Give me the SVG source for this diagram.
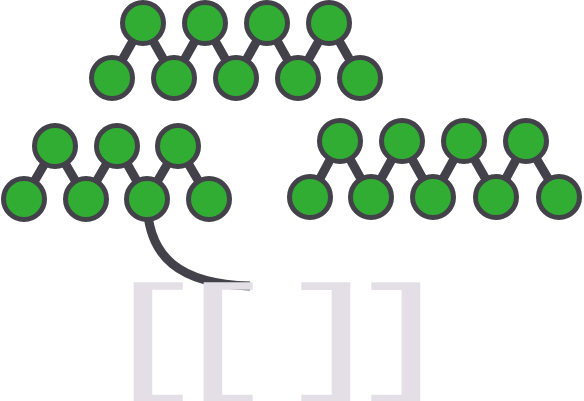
<svg xmlns="http://www.w3.org/2000/svg" width="584" height="401" viewBox="0 0 584 401">
<style>
.n{fill:#31ad33;stroke:#434149;stroke-width:5}
.e{stroke:#434149;stroke-width:9;fill:none}
.br{fill:#e4dfe7;font-family:Inter,"Liberation Sans",sans-serif;font-weight:300;font-size:132px}
</style>
<rect width="584" height="401" fill="#fff"/>
<g id="connectors">
<path class="e" d="M143,23L112,78M143,23L174,78M205,23L174,78M205,23L236,78M267,23L236,78M267,23L298,78M329,23L298,78M329,23L360,78"/>
<path class="e" d="M55,146L24,199M55,146L86,199M117,146L86,199M117,146L147,199M178,146L147,199M178,146L209,199"/>
<path class="e" d="M340,141L310,197M340,141L371,197M402,141L371,197M402,141L433,197M464,141L433,197M464,141L496,197M526,141L496,197M526,141L559,197"/>
<path class="e" d="M147,199C147,258 180,284 250,286"/>
</g>
<g id="n1"><circle class="n" cx="143" cy="23" r="20.5"/></g>
<g id="n2"><circle class="n" cx="205" cy="23" r="20.5"/></g>
<g id="n3"><circle class="n" cx="267" cy="23" r="20.5"/></g>
<g id="n4"><circle class="n" cx="329" cy="23" r="20.5"/></g>
<g id="n5"><circle class="n" cx="112" cy="78" r="20.5"/></g>
<g id="n6"><circle class="n" cx="174" cy="78" r="20.5"/></g>
<g id="n7"><circle class="n" cx="236" cy="78" r="20.5"/></g>
<g id="n8"><circle class="n" cx="298" cy="78" r="20.5"/></g>
<g id="n9"><circle class="n" cx="360" cy="78" r="20.5"/></g>
<g id="l1"><circle class="n" cx="55" cy="146" r="20.5"/></g>
<g id="l2"><circle class="n" cx="117" cy="146" r="20.5"/></g>
<g id="l3"><circle class="n" cx="178" cy="146" r="20.5"/></g>
<g id="l4"><circle class="n" cx="24" cy="199" r="20.5"/></g>
<g id="l5"><circle class="n" cx="86" cy="199" r="20.5"/></g>
<g id="l6"><circle class="n" cx="147" cy="199" r="20.5"/></g>
<g id="l7"><circle class="n" cx="209" cy="199" r="20.5"/></g>
<g id="r1"><circle class="n" cx="340" cy="141" r="20.5"/></g>
<g id="r2"><circle class="n" cx="402" cy="141" r="20.5"/></g>
<g id="r3"><circle class="n" cx="464" cy="141" r="20.5"/></g>
<g id="r4"><circle class="n" cx="526" cy="141" r="20.5"/></g>
<g id="r5"><circle class="n" cx="310" cy="197" r="20.5"/></g>
<g id="r6"><circle class="n" cx="371" cy="197" r="20.5"/></g>
<g id="r7"><circle class="n" cx="433" cy="197" r="20.5"/></g>
<g id="r8"><circle class="n" cx="496" cy="197" r="20.5"/></g>
<g id="r9"><circle class="n" cx="559" cy="197" r="20.5"/></g>
<g id="brackets">
<text class="br" transform="scale(2.22,1)" y="384.2"><tspan x="45">[</tspan><tspan x="76.5">[</tspan><tspan x="120"> </tspan><tspan x="173" text-anchor="end">]</tspan><tspan x="204.5" text-anchor="end">]</tspan></text>
</g>
</svg>
